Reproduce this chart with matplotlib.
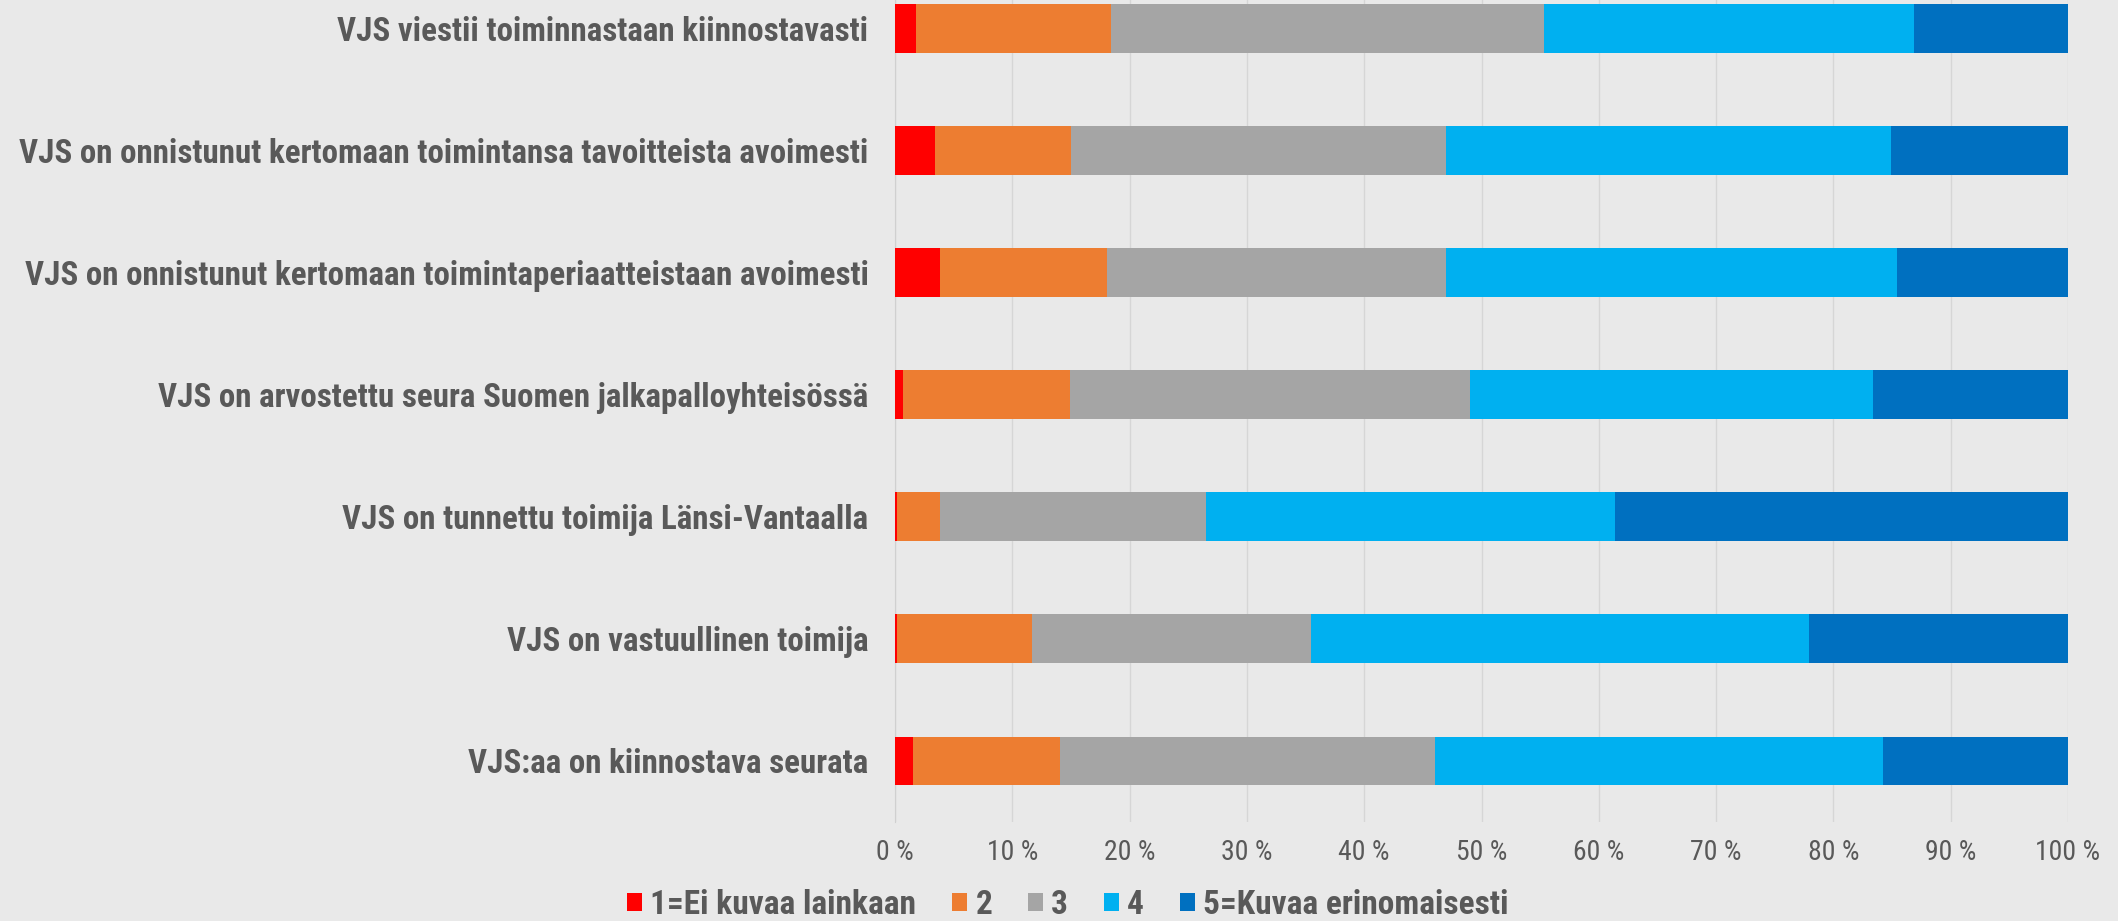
import numpy as np
import matplotlib
matplotlib.use("Agg")
import matplotlib.pyplot as plt
from matplotlib import font_manager as fm

# väittämät (ylhäältä alas)
statements = [
    "VJS viestii toiminnastaan kiinnostavasti",
    "VJS on onnistunut kertomaan toimintansa tavoitteista avoimesti",
    "VJS on onnistunut kertomaan toimintaperiaatteistaan avoimesti",
    "VJS on arvostettu seura Suomen jalkapalloyhteisössä",
    "VJS on tunnettu toimija Länsi-Vantaalla",
    "VJS on vastuullinen toimija",
    "VJS:aa on kiinnostava seurata",
]
legend_labels = ["1=Ei kuvaa lainkaan", "2", "3", "4", "5=Kuvaa erinomaisesti"]

# osuudet (%) vastausvaihtoehdoittain
s1 = [1.8, 3.4, 3.8, 0.7, 0.2, 0.2, 1.5]
s2 = [16.6, 11.6, 14.3, 14.2, 3.6, 11.5, 12.6]
s3 = [36.9, 32.0, 28.9, 34.1, 22.7, 23.8, 31.9]
s4 = [31.6, 37.9, 38.4, 34.4, 34.9, 42.4, 38.2]
s5 = [13.1, 15.1, 14.6, 16.6, 38.6, 22.1, 15.8]

colors = ["#FF0000", "#ED7D31", "#A5A5A5", "#00B0F0", "#0070C0"]
txt = "#595959"
bg = "#E9E9E9"

# kapea fontti jos löytyy
have = {f.name for f in fm.fontManager.ttflist}
fams = [f for f in ['Liberation Sans Narrow', 'Arial Narrow', 'Roboto Condensed',
                    'IBM Plex Sans Condensed'] if f in have]
plt.rcParams['font.family'] = fams + ['DejaVu Sans']

fig = plt.figure(figsize=(21.18, 9.21), dpi=100, facecolor=bg)
ax = fig.add_axes([895/2118, 1 - 822/921, (2068-895)/2118, 822/921])
ax.set_facecolor(bg)

y = np.arange(len(statements))
left = np.zeros(len(statements))
for vals, c, lab in zip([s1, s2, s3, s4, s5], colors, legend_labels):
    ax.barh(y, vals, left=left, height=0.4, color=c, label=lab, zorder=3)
    left += np.array(vals)

ax.set_xlim(0, 100)
ax.set_ylim(6.5, -0.233)
ax.set_xticks(np.arange(0, 101, 10))
ax.set_xticklabels([f"{v} %" for v in range(0, 101, 10)])
ax.set_yticks(y)
ax.set_yticklabels(statements)
ax.tick_params(axis='x', length=0, pad=12, labelsize=20, labelcolor=txt)
ax.tick_params(axis='y', length=0, pad=19, labelsize=23.8, labelcolor=txt)
for t in ax.get_yticklabels():
    t.set_fontweight('bold')

ax.grid(axis='x', color='#D6D6D6', linewidth=1, zorder=0)
for sp in ['top', 'right', 'bottom']:
    ax.spines[sp].set_visible(False)
ax.spines['left'].set_color('#D0D0D0')

fig.legend(loc='center', bbox_to_anchor=(1068/2118, 1 - 905/921), ncol=5,
           frameon=False, prop={'size': 24, 'weight': 'bold'},
           labelcolor=txt, handlelength=0.45, handleheight=0.45,
           handletextpad=0.24, columnspacing=1.08, borderpad=0)

fig.savefig("out.png", dpi=100, facecolor=bg)
